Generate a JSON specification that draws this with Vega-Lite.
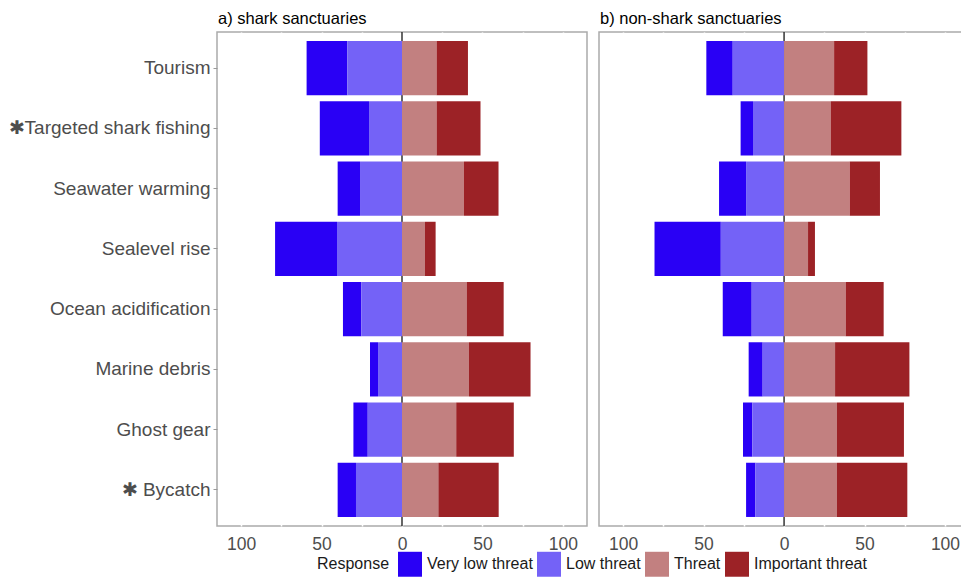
{
  "$schema": "https://vega.github.io/schema/vega-lite/v6.json",
  "background": "white",
  "padding": {"left": 7, "top": 10, "right": 0, "bottom": 0},
  "config": {
    "font": "Liberation Sans",
    "view": {"stroke": "#ababab", "strokeWidth": 1.5},
    "axis": {"domain": false, "gridColor": "white", "gridWidth": 1.5, "labelFont": "Liberation Sans"},
    "concat": {"spacing": 10}
  },
  "datasets": {
    "threats": [
      {"panel": "shark", "item": "Tourism", "response": "Very low threat", "value": -25.3},
      {"panel": "shark", "item": "Tourism", "response": "Low threat", "value": -34.0},
      {"panel": "shark", "item": "Tourism", "response": "Threat", "value": 21.5},
      {"panel": "shark", "item": "Tourism", "response": "Important threat", "value": 19.5},
      {"panel": "shark", "item": "Targeted shark fishing", "response": "Very low threat", "value": -30.6},
      {"panel": "shark", "item": "Targeted shark fishing", "response": "Low threat", "value": -20.5},
      {"panel": "shark", "item": "Targeted shark fishing", "response": "Threat", "value": 21.5},
      {"panel": "shark", "item": "Targeted shark fishing", "response": "Important threat", "value": 27.3},
      {"panel": "shark", "item": "Seawater warming", "response": "Very low threat", "value": -13.9},
      {"panel": "shark", "item": "Seawater warming", "response": "Low threat", "value": -26.1},
      {"panel": "shark", "item": "Seawater warming", "response": "Threat", "value": 38.5},
      {"panel": "shark", "item": "Seawater warming", "response": "Important threat", "value": 21.5},
      {"panel": "shark", "item": "Sealevel rise", "response": "Very low threat", "value": -38.5},
      {"panel": "shark", "item": "Sealevel rise", "response": "Low threat", "value": -40.4},
      {"panel": "shark", "item": "Sealevel rise", "response": "Threat", "value": 14.3},
      {"panel": "shark", "item": "Sealevel rise", "response": "Important threat", "value": 6.6},
      {"panel": "shark", "item": "Ocean acidification", "response": "Very low threat", "value": -11.4},
      {"panel": "shark", "item": "Ocean acidification", "response": "Low threat", "value": -25.3},
      {"panel": "shark", "item": "Ocean acidification", "response": "Threat", "value": 40.2},
      {"panel": "shark", "item": "Ocean acidification", "response": "Important threat", "value": 23.0},
      {"panel": "shark", "item": "Marine debris", "response": "Very low threat", "value": -5.0},
      {"panel": "shark", "item": "Marine debris", "response": "Low threat", "value": -14.9},
      {"panel": "shark", "item": "Marine debris", "response": "Threat", "value": 41.6},
      {"panel": "shark", "item": "Marine debris", "response": "Important threat", "value": 38.3},
      {"panel": "shark", "item": "Ghost gear", "response": "Very low threat", "value": -8.9},
      {"panel": "shark", "item": "Ghost gear", "response": "Low threat", "value": -21.3},
      {"panel": "shark", "item": "Ghost gear", "response": "Threat", "value": 33.7},
      {"panel": "shark", "item": "Ghost gear", "response": "Important threat", "value": 35.8},
      {"panel": "shark", "item": "Bycatch", "response": "Very low threat", "value": -11.4},
      {"panel": "shark", "item": "Bycatch", "response": "Low threat", "value": -28.6},
      {"panel": "shark", "item": "Bycatch", "response": "Threat", "value": 22.6},
      {"panel": "shark", "item": "Bycatch", "response": "Important threat", "value": 37.5},
      {"panel": "non", "item": "Tourism", "response": "Very low threat", "value": -16.4},
      {"panel": "non", "item": "Tourism", "response": "Low threat", "value": -31.9},
      {"panel": "non", "item": "Tourism", "response": "Threat", "value": 31.1},
      {"panel": "non", "item": "Tourism", "response": "Important threat", "value": 20.7},
      {"panel": "non", "item": "Targeted shark fishing", "response": "Very low threat", "value": -7.7},
      {"panel": "non", "item": "Targeted shark fishing", "response": "Low threat", "value": -19.3},
      {"panel": "non", "item": "Targeted shark fishing", "response": "Threat", "value": 29.0},
      {"panel": "non", "item": "Targeted shark fishing", "response": "Important threat", "value": 43.9},
      {"panel": "non", "item": "Seawater warming", "response": "Very low threat", "value": -16.8},
      {"panel": "non", "item": "Seawater warming", "response": "Low threat", "value": -23.6},
      {"panel": "non", "item": "Seawater warming", "response": "Threat", "value": 40.8},
      {"panel": "non", "item": "Seawater warming", "response": "Important threat", "value": 18.8},
      {"panel": "non", "item": "Sealevel rise", "response": "Very low threat", "value": -41.2},
      {"panel": "non", "item": "Sealevel rise", "response": "Low threat", "value": -39.3},
      {"panel": "non", "item": "Sealevel rise", "response": "Threat", "value": 14.9},
      {"panel": "non", "item": "Sealevel rise", "response": "Important threat", "value": 4.3},
      {"panel": "non", "item": "Ocean acidification", "response": "Very low threat", "value": -18.0},
      {"panel": "non", "item": "Ocean acidification", "response": "Low threat", "value": -20.1},
      {"panel": "non", "item": "Ocean acidification", "response": "Threat", "value": 38.3},
      {"panel": "non", "item": "Ocean acidification", "response": "Important threat", "value": 23.6},
      {"panel": "non", "item": "Marine debris", "response": "Very low threat", "value": -8.7},
      {"panel": "non", "item": "Marine debris", "response": "Low threat", "value": -13.3},
      {"panel": "non", "item": "Marine debris", "response": "Threat", "value": 31.7},
      {"panel": "non", "item": "Marine debris", "response": "Important threat", "value": 46.2},
      {"panel": "non", "item": "Ghost gear", "response": "Very low threat", "value": -5.8},
      {"panel": "non", "item": "Ghost gear", "response": "Low threat", "value": -19.7},
      {"panel": "non", "item": "Ghost gear", "response": "Threat", "value": 32.9},
      {"panel": "non", "item": "Ghost gear", "response": "Important threat", "value": 41.6},
      {"panel": "non", "item": "Bycatch", "response": "Very low threat", "value": -5.8},
      {"panel": "non", "item": "Bycatch", "response": "Low threat", "value": -17.8},
      {"panel": "non", "item": "Bycatch", "response": "Threat", "value": 32.9},
      {"panel": "non", "item": "Bycatch", "response": "Important threat", "value": 43.7}
    ]
  },
  "hconcat": [
    {
      "width": 370,
      "height": 494,
      "title": {"text": "a) shark sanctuaries", "anchor": "start", "frame": "group", "fontSize": 16.5, "fontWeight": "normal", "color": "#000000", "offset": 4, "dx": 1},
      "layer": [
        {
          "data": {"values": [{"zero": 0}]},
          "mark": {"type": "rule", "color": "#000000", "strokeWidth": 1.2},
          "encoding": {"x": {"field": "zero", "type": "quantitative", "scale": {"domain": [-115, 115]}}}
        },
        {
          "data": {"name": "threats"},
          "transform": [
            {"filter": "datum.panel == 'shark'"},
            {"calculate": "indexof(['Low threat','Very low threat','Threat','Important threat'], datum.response)", "as": "rank"}
          ],
          "mark": {"type": "bar"},
          "encoding": {
            "y": {
              "field": "item", "type": "nominal",
              "sort": ["Tourism", "Targeted shark fishing", "Seawater warming", "Sealevel rise", "Ocean acidification", "Marine debris", "Ghost gear", "Bycatch"],
              "scale": {"paddingInner": 0.1, "paddingOuter": 0.15},
              "axis": {"title": null, "labelFontSize": 19, "labelColor": "#4d4d4d", "labelPadding": 3, "labelLimit": 400, "ticks": true, "tickColor": "#9a9a9a", "tickSize": 4, "grid": false,
                "labelExpr": "datum.label == 'Targeted shark fishing' ? '✱Targeted shark fishing' : datum.label == 'Bycatch' ? '✱ Bycatch' : datum.label"}
            },
            "x": {
              "field": "value", "type": "quantitative", "stack": "zero",
              "scale": {"domain": [-115, 115], "nice": false},
              "axis": {"title": null, "values": [-100, -75, -50, -25, 0, 25, 50, 75, 100], "labelExpr": "datum.value % 50 == 0 ? abs(datum.value) + '' : ''", "labelFontSize": 17.5, "labelColor": "#4d4d4d", "ticks": false, "labelPadding": 9, "grid": true}
            },
            "order": {"field": "rank", "type": "quantitative"},
            "color": {
              "field": "response", "type": "nominal",
              "scale": {"domain": ["Very low threat", "Low threat", "Threat", "Important threat"], "range": ["#2900f5", "#7462f7", "#c28080", "#9c2226"]},
              "legend": {
                "title": "Response", "orient": "none", "direction": "horizontal", "legendX": 100, "legendY": 520,
                "titleOrient": "left", "titleFontSize": 16, "titleFontWeight": "normal", "titleColor": "#1a1a1a", "titlePadding": 8,
                "labelFontSize": 16, "labelColor": "#1a1a1a", "labelOffset": 5, "columnPadding": 4,
                "symbolType": "M-1,-1.04H1V1.04H-1Z", "symbolSize": 576, "symbolStrokeWidth": 0, "symbolOpacity": 1
              }
            }
          }
        }
      ]
    },
    {
      "width": 364,
      "height": 494,
      "title": {"text": "b) non-shark sanctuaries", "anchor": "start", "frame": "group", "fontSize": 16.5, "fontWeight": "normal", "color": "#000000", "offset": 4, "dx": 1},
      "layer": [
        {
          "data": {"values": [{"zero": 0}]},
          "mark": {"type": "rule", "color": "#000000", "strokeWidth": 1.2},
          "encoding": {"x": {"field": "zero", "type": "quantitative", "scale": {"domain": [-115, 111.2]}}}
        },
        {
          "data": {"name": "threats"},
          "transform": [
            {"filter": "datum.panel == 'non'"},
            {"calculate": "indexof(['Low threat','Very low threat','Threat','Important threat'], datum.response)", "as": "rank"}
          ],
          "mark": {"type": "bar"},
          "encoding": {
            "y": {
              "field": "item", "type": "nominal",
              "sort": ["Tourism", "Targeted shark fishing", "Seawater warming", "Sealevel rise", "Ocean acidification", "Marine debris", "Ghost gear", "Bycatch"],
              "scale": {"paddingInner": 0.1, "paddingOuter": 0.15},
              "axis": null
            },
            "x": {
              "field": "value", "type": "quantitative", "stack": "zero",
              "scale": {"domain": [-115, 111.2], "nice": false},
              "axis": {"title": null, "values": [-100, -75, -50, -25, 0, 25, 50, 75, 100], "labelExpr": "datum.value % 50 == 0 ? abs(datum.value) + '' : ''", "labelFontSize": 17.5, "labelColor": "#4d4d4d", "ticks": false, "labelPadding": 9, "grid": true}
            },
            "order": {"field": "rank", "type": "quantitative"},
            "color": {"field": "response", "type": "nominal"}
          }
        }
      ]
    }
  ],
  "resolve": {"scale": {"x": "independent"}}
}
